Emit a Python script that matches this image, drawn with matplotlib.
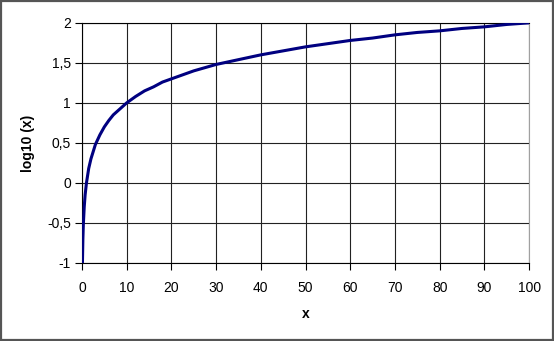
import matplotlib
matplotlib.use("Agg")
import matplotlib.pyplot as plt
from matplotlib.patches import Rectangle
from matplotlib.ticker import FuncFormatter, MultipleLocator

# values
x_vals = [0.1, 0.2, 0.3, 0.5, 0.7, 1, 1.5, 2, 3, 4, 5, 6, 7, 8, 9, 10, 12, 14, 16, 18,
          20, 25, 30, 35, 40, 45, 50, 55, 60, 65, 70, 75, 80, 85, 90, 95, 100]
y_vals = [-1.0, -0.7, -0.52, -0.3, -0.15, 0.0, 0.18, 0.3, 0.48, 0.6, 0.7, 0.78, 0.85, 0.9, 0.95, 1.0,
          1.08, 1.15, 1.2, 1.26, 1.3, 1.4, 1.48, 1.54, 1.6, 1.65, 1.7, 1.74, 1.78, 1.81, 1.85,
          1.88, 1.9, 1.93, 1.95, 1.98, 2.0]
x_label = "x"
y_label = "log10 (x)"

plt.rcParams['font.family'] = ['Liberation Sans', 'DejaVu Sans']

fig = plt.figure(figsize=(5.54, 3.41), dpi=100)
ax = fig.add_axes([0.148, 0.229, 0.807, 0.704])

ax.plot(x_vals, y_vals, color='#000080', lw=2.2, solid_joinstyle='round', zorder=3)

ax.set_xlim(0, 100)
ax.set_ylim(-1, 2)
ax.xaxis.set_major_locator(MultipleLocator(10))
ax.yaxis.set_major_locator(MultipleLocator(0.5))
ax.yaxis.set_major_formatter(FuncFormatter(lambda v, p: ('%g' % v).replace('.', ',')))

ax.grid(True, color='#222222', lw=0.8)
ax.set_axisbelow(True)
ax.tick_params(direction='out', length=5, width=0.8, labelsize=10, colors='black')
ax.tick_params(axis='x', pad=8)
ax.tick_params(axis='y', pad=3)
for s in ['left', 'bottom', 'top']:
    ax.spines[s].set_color('black')
    ax.spines[s].set_linewidth(0.8)
ax.spines['right'].set_color('#a0a0a0')
ax.spines['right'].set_linewidth(0.8)

ax.set_xlabel(x_label, fontsize=10, fontweight='bold', labelpad=9)
ax.set_ylabel(y_label, fontsize=10, fontweight='bold', labelpad=9)

# outer chart border
fig.patches.append(Rectangle((0.002, 0.003), 0.996, 0.994, transform=fig.transFigure,
                             fill=False, edgecolor='#555555', lw=1.6))

fig.savefig('out.png', dpi=100)
